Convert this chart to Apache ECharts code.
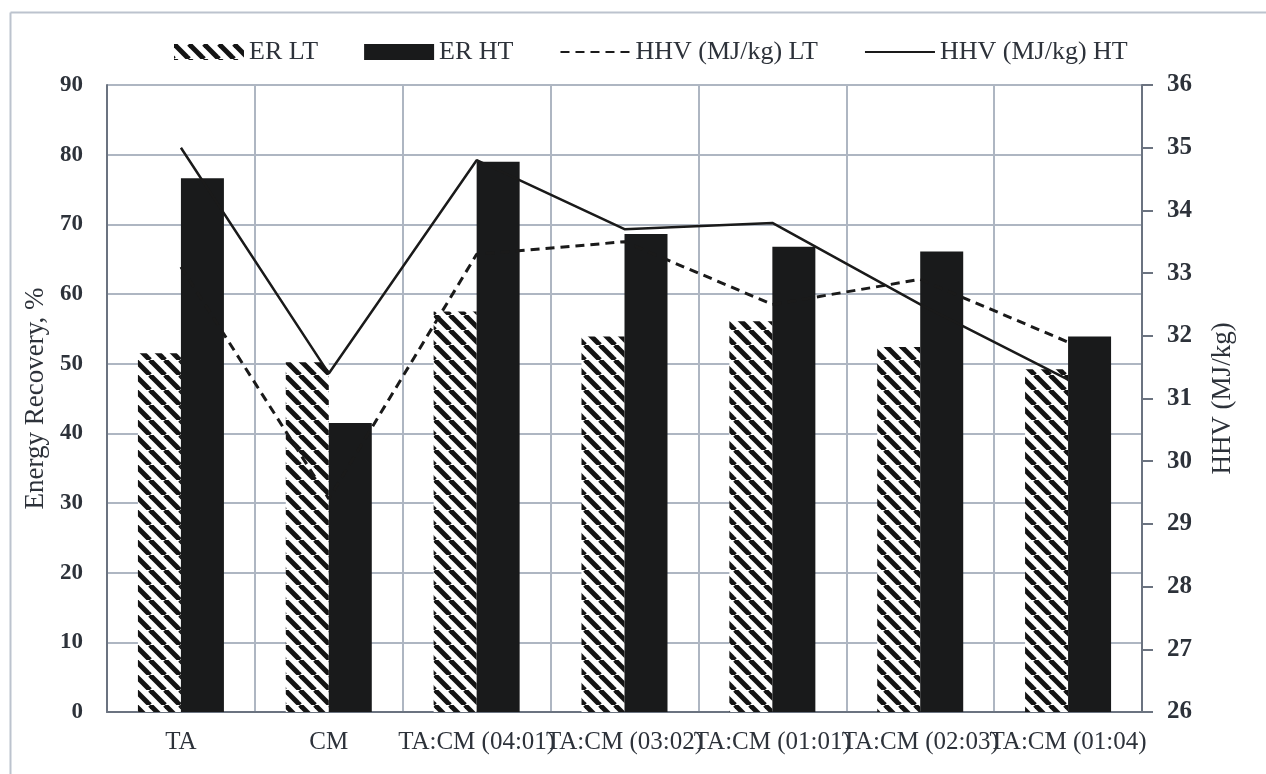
<!DOCTYPE html>
<html>
<head>
<meta charset="utf-8">
<style>
  html, body { margin: 0; padding: 0; background: #ffffff; }
  #chart { width: 1266px; height: 774px; }
</style>
<script src="https://cdn.jsdelivr.net/npm/echarts@6/dist/echarts.min.js"></script>
</head>
<body>
<div id="chart"></div>
<script>
// Blend categories
const categories = ['TA', 'CM', 'TA:CM (04:01)', 'TA:CM (03:02)', 'TA:CM (01:01)', 'TA:CM (02:03)', 'TA:CM (01:04)'];
// Energy recovery, %
const erLT = [51.5, 50.2, 57.5, 53.9, 56.1, 52.4, 49.2];
const erHT = [76.6, 41.5, 79.0, 68.6, 66.8, 66.1, 53.9];
// Higher heating value, MJ/kg
const hhvLT = [33.1, 29.4, 33.3, 33.5, 32.5, 32.9, 31.9];
const hhvHT = [35.0, 31.4, 34.8, 33.7, 33.8, 32.5, 31.3];

const FONT = 'Liberation Serif';
const TEXT = '#2d323a';
const AXIS = '#6b7380';
const GRID = '#aeb6c2';

// Diagonal hatch tile for the low-temperature bars
function hatchTile() {
  const s = 15;
  const c = document.createElement('canvas');
  c.width = s; c.height = s;
  const g = c.getContext('2d');
  g.fillStyle = '#ffffff';
  g.fillRect(0, 0, s, s);
  g.strokeStyle = '#141414';
  g.lineWidth = 5;
  for (const x0 of [-s, 0, s]) {
    g.beginPath();
    g.moveTo(x0, 0);
    g.lineTo(x0 + s, s);
    g.stroke();
  }
  return c;
}
const hatch = { image: hatchTile(), repeat: 'repeat' };

// Line entries in the legend show only the stroke, no marker
const noMarker = { color: 'rgba(0,0,0,0)', opacity: 0, borderWidth: 0 };

const chart = echarts.init(document.getElementById('chart'), null, { renderer: 'canvas' });

chart.setOption({
  animation: false,
  backgroundColor: '#ffffff',
  textStyle: { fontFamily: FONT, color: TEXT },
  graphic: [
    { type: 'line', shape: { x1: 10.5, y1: 12.5, x2: 1266, y2: 12.5 }, style: { stroke: '#bcc3ce', lineWidth: 2 }, silent: true },
    { type: 'line', shape: { x1: 10.5, y1: 12.5, x2: 10.5, y2: 774 }, style: { stroke: '#bcc3ce', lineWidth: 2 }, silent: true }
  ],
  legend: {
    top: 34,
    left: 169,
    itemWidth: 70,
    itemHeight: 16,
    itemGap: 46,
    textStyle: { fontFamily: FONT, fontSize: 26, color: TEXT },
    data: [
      { name: 'ER LT', icon: 'rect' },
      { name: 'ER HT', icon: 'rect' },
      { name: 'HHV (MJ/kg) LT', itemStyle: noMarker },
      { name: 'HHV (MJ/kg) HT', itemStyle: noMarker }
    ]
  },
  grid: { left: 107, right: 124, top: 85, bottom: 62, containLabel: false },
  xAxis: {
    type: 'category',
    data: categories,
    boundaryGap: true,
    axisLine: { show: true, lineStyle: { color: AXIS, width: 2 } },
    axisTick: { show: false },
    axisLabel: { interval: 0, margin: 18, fontFamily: FONT, fontSize: 25, color: TEXT, hideOverlap: false },
    splitLine: { show: true, lineStyle: { color: GRID, width: 2 } }
  },
  yAxis: [
    {
      type: 'value',
      min: 0, max: 90, interval: 10,
      name: 'Energy Recovery, %',
      nameLocation: 'middle',
      nameGap: 52,
      nameTextStyle: { fontFamily: FONT, fontSize: 27, color: TEXT },
      axisLine: { show: true, lineStyle: { color: AXIS, width: 2 } },
      axisTick: { show: false },
      axisLabel: { margin: 24, fontFamily: FONT, fontSize: 23, fontWeight: 'bold', color: TEXT },
      splitLine: { show: true, lineStyle: { color: GRID, width: 2 } }
    },
    {
      type: 'value',
      min: 26, max: 36, interval: 1,
      name: 'HHV (MJ/kg)',
      nameLocation: 'middle',
      nameGap: 67,
      nameTextStyle: { fontFamily: FONT, fontSize: 27, color: TEXT },
      axisLine: { show: true, lineStyle: { color: AXIS, width: 2 } },
      axisTick: { show: true, inside: false, length: 11, lineStyle: { color: AXIS, width: 2 } },
      axisLabel: { margin: 25, fontFamily: FONT, fontSize: 25, fontWeight: 'bold', color: TEXT },
      splitLine: { show: false }
    }
  ],
  series: [
    {
      name: 'ER LT', type: 'bar', yAxisIndex: 0, data: erLT,
      barWidth: 43, barGap: '0%',
      itemStyle: { color: hatch }
    },
    {
      name: 'ER HT', type: 'bar', yAxisIndex: 0, data: erHT,
      barWidth: 43,
      itemStyle: { color: '#191a1b' }
    },
    {
      name: 'HHV (MJ/kg) LT', type: 'line', yAxisIndex: 1, data: hhvLT,
      symbol: 'none',
      lineStyle: { color: '#1a1a1a', width: 3, type: [9, 6] },
      itemStyle: { color: '#1a1a1a' }
    },
    {
      name: 'HHV (MJ/kg) HT', type: 'line', yAxisIndex: 1, data: hhvHT,
      symbol: 'none',
      lineStyle: { color: '#1a1a1a', width: 2.5 },
      itemStyle: { color: '#1a1a1a' }
    }
  ]
});
</script>
</body>
</html>
